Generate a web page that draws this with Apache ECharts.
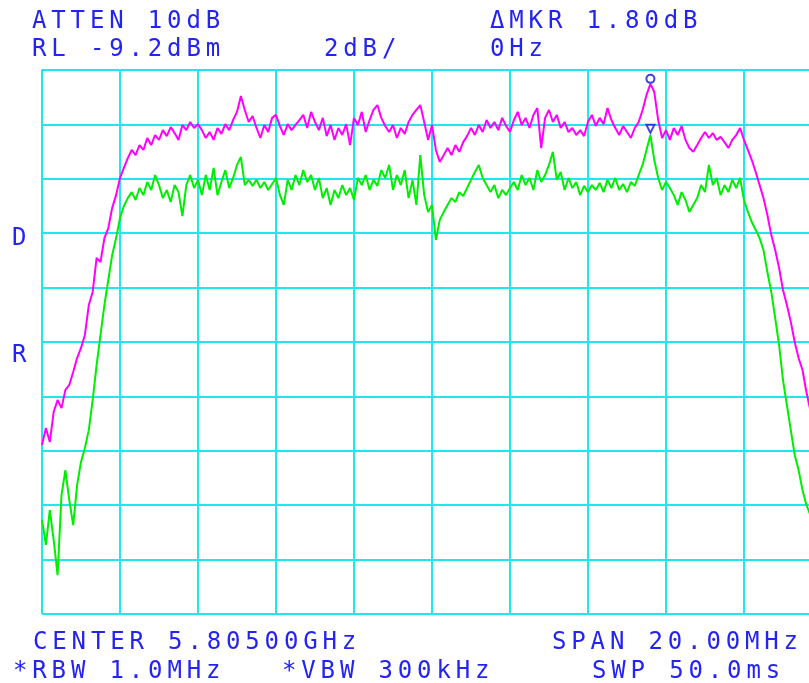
<!DOCTYPE html>
<html><head><meta charset="utf-8">
<script src="https://cdn.jsdelivr.net/npm/echarts@6/dist/echarts.min.js"></script>
<style>html,body{margin:0;padding:0;background:#fff;overflow:hidden}#c{width:840px;height:683px}</style>
</head><body><div id="c"></div>
<script>
// ---- data ----
const refLevelDbm = -9.2;            // RL
const dbPerDiv = 2;                  // 2 dB/div
const freqOffsetStart = -10;         // MHz from centre (5.805 GHz)
const freqStep = 0.1;                // MHz between samples
// level relative to reference level, dB (magenta = max hold trace)
const maxHoldTrace = [-13.79,-13.16,-13.68,-12.57,-12.13,-12.43,-11.76,-11.58,-11.10,-10.59,
-10.22,-9.74,-8.64,-8.16,-6.91,-7.06,-6.18,-5.81,-5.07,-4.60,
-3.97,-3.60,-3.24,-2.94,-3.13,-2.76,-2.94,-2.50,-2.76,-2.39,
-2.57,-2.21,-2.43,-2.10,-2.32,-2.57,-2.02,-2.21,-1.91,-2.13,
-1.99,-2.21,-2.50,-2.28,-2.57,-2.13,-2.35,-1.99,-2.21,-1.84,
-1.54,-0.96,-1.47,-1.91,-1.69,-2.13,-2.50,-2.02,-2.28,-1.76,
-1.65,-2.06,-2.39,-1.99,-2.21,-2.02,-1.84,-1.65,-2.13,-1.54,
-1.91,-2.21,-1.76,-2.43,-2.02,-2.57,-2.13,-2.39,-1.99,-2.76,
-1.76,-2.02,-1.54,-2.28,-1.84,-1.47,-1.29,-1.76,-2.06,-2.28,
-2.02,-2.50,-2.13,-2.35,-1.91,-1.65,-1.47,-1.29,-1.91,-2.57,
-2.02,-2.94,-3.38,-3.13,-2.87,-3.13,-2.76,-3.01,-2.65,-2.43,
-2.13,-2.39,-2.02,-2.28,-1.84,-2.13,-1.91,-2.21,-1.76,-2.06,
-2.28,-1.84,-1.54,-2.02,-1.76,-2.13,-1.65,-1.40,-2.87,-1.76,
-1.47,-1.91,-1.65,-2.13,-1.91,-2.28,-2.13,-2.39,-2.21,-2.43,
-1.91,-1.65,-2.06,-1.76,-1.99,-1.40,-1.84,-2.13,-2.39,-2.06,
-2.28,-2.50,-2.13,-1.91,-1.47,-0.92,-0.51,-0.81,-1.84,-2.50,
-2.21,-2.57,-2.13,-2.39,-2.06,-2.57,-2.87,-3.01,-2.76,-2.50,
-2.28,-2.50,-2.32,-2.57,-2.46,-2.65,-2.87,-2.57,-2.39,-2.13,
-2.57,-2.94,-3.31,-3.75,-4.23,-4.71,-5.33,-6.07,-6.62,-7.28,
-8.09,-8.64,-9.26,-10.00,-10.59,-11.03,-11.84,-12.50];
// green = live trace
const liveTrace = [-16.54,-17.46,-16.18,-17.28,-18.57,-15.63,-14.71,-15.81,-16.73,-15.26,
-14.41,-13.90,-13.24,-12.13,-10.85,-9.74,-8.64,-7.72,-6.80,-6.18,
-5.44,-5.00,-4.71,-4.49,-4.78,-4.34,-4.60,-4.12,-4.41,-3.86,
-4.23,-4.71,-4.41,-4.85,-4.23,-4.49,-5.37,-4.23,-3.86,-4.34,
-4.04,-4.60,-3.86,-4.41,-3.60,-4.60,-4.12,-3.68,-4.34,-3.97,
-3.49,-3.20,-4.23,-4.04,-4.26,-4.04,-4.34,-4.12,-4.41,-4.19,
-3.97,-4.60,-4.96,-4.04,-4.41,-3.86,-4.23,-3.68,-4.12,-3.86,
-4.41,-3.97,-4.71,-4.34,-4.96,-4.41,-4.71,-4.23,-4.60,-4.34,
-4.78,-3.97,-4.23,-3.86,-4.41,-4.04,-4.26,-3.68,-3.97,-3.49,
-4.41,-3.86,-4.23,-3.68,-4.71,-4.04,-4.96,-3.13,-4.60,-5.22,
-4.96,-6.25,-5.51,-5.22,-4.96,-4.71,-4.85,-4.49,-4.63,-4.34,
-4.04,-3.75,-3.49,-3.97,-4.23,-4.49,-4.23,-4.71,-4.41,-4.60,
-4.34,-4.12,-4.41,-3.86,-4.23,-3.97,-4.41,-3.68,-4.12,-3.86,
-3.49,-3.01,-4.04,-3.75,-4.41,-3.97,-4.34,-4.12,-4.60,-4.26,
-4.49,-4.23,-4.41,-4.15,-4.49,-4.04,-4.34,-3.97,-4.41,-4.19,
-4.49,-4.12,-4.26,-3.86,-3.49,-2.94,-2.39,-3.31,-3.97,-4.41,
-4.12,-4.34,-4.60,-4.96,-4.49,-4.78,-5.22,-4.96,-4.71,-4.23,
-4.49,-3.49,-4.23,-3.97,-4.60,-4.23,-4.49,-4.04,-4.34,-3.97,
-4.78,-5.22,-5.59,-5.88,-6.18,-6.62,-7.43,-8.16,-9.12,-10.11,
-11.40,-12.32,-13.24,-14.15,-14.71,-15.44,-15.99,-16.36];
const markerFreqOffset = 5.6;   // MHz
const markerLevel = -0.51;      // dB re RL
const markerDelta = 1.80;       // dB
// texts
const labelStrings = ['ATTEN 10dB','RL -9.2dBm','2dB/','ΔMKR 1.80dB','0Hz','D','R',
  'CENTER 5.80500GHz','*RBW 1.0MHz','*VBW 300kHz','SPAN 20.00MHz','SWP 50.0ms'];

// ---- layout ----
const textLayout = [[32,22],[32,50],[324,50],[490,22],[490,50],[12,239],[12,356],
  [33,643],[13,672],[282,672],[552,643],[592,672]];
const charAdvance = 19.3;
const blue = '#2424f2', cyan = '#22e6ee';

const graphics = [];
labelStrings.forEach((s, k) => {
  const [x0, yc] = textLayout[k];
  Array.from(s).forEach((ch, i) => {
    if (ch === ' ') return;
    graphics.push({type:'text', x: x0 + i*charAdvance, y: yc,
      style:{text: ch, fill: blue, font: '24px "DejaVu Sans Mono"', textAlign:'left', textVerticalAlign:'middle'}});
  });
});

const toPairs = arr => arr.map((v,i) => [+(freqOffsetStart + i*freqStep).toFixed(2), v]);

const chart = echarts.init(document.getElementById('c'), null, {renderer:'canvas'});
chart.setOption({
  backgroundColor:'#ffffff',
  animation:false,
  grid:{left:42, top:70, width:780, height:544, show:false},
  xAxis:{type:'value', min:-10, max:10, interval:2,
    axisLine:{show:true, lineStyle:{color:cyan, width:2}}, axisTick:{show:false}, axisLabel:{show:false},
    splitLine:{show:true, lineStyle:{color:cyan, width:2}}},
  yAxis:{type:'value', min:-10*dbPerDiv, max:0, interval:dbPerDiv,
    axisLine:{show:true, lineStyle:{color:cyan, width:2}}, axisTick:{show:false}, axisLabel:{show:false},
    splitLine:{show:true, lineStyle:{color:cyan, width:2}}},
  series:[
    {type:'line', data: toPairs(liveTrace), showSymbol:false, lineStyle:{color:'#00ee00', width:2}, itemStyle:{color:'#00ee00'}},
    {type:'line', data: toPairs(maxHoldTrace), showSymbol:false, lineStyle:{color:'#ff00ff', width:2}, itemStyle:{color:'#ff00ff'}},
    {type:'scatter', data:[[markerFreqOffset, markerLevel]], symbol:'circle', symbolSize:8, symbolOffset:[0,-5],
      itemStyle:{color:'#ffffff', borderColor:'#1010e0', borderWidth:2}, z:5},
    {type:'scatter', data:[[markerFreqOffset, markerLevel - markerDelta]], symbol:'triangle', symbolRotate:180, symbolSize:8, symbolOffset:[0,-4],
      itemStyle:{color:'#ffffff', borderColor:'#1010e0', borderWidth:2}, z:5}
  ],
  graphic: graphics
});
</script></body></html>
